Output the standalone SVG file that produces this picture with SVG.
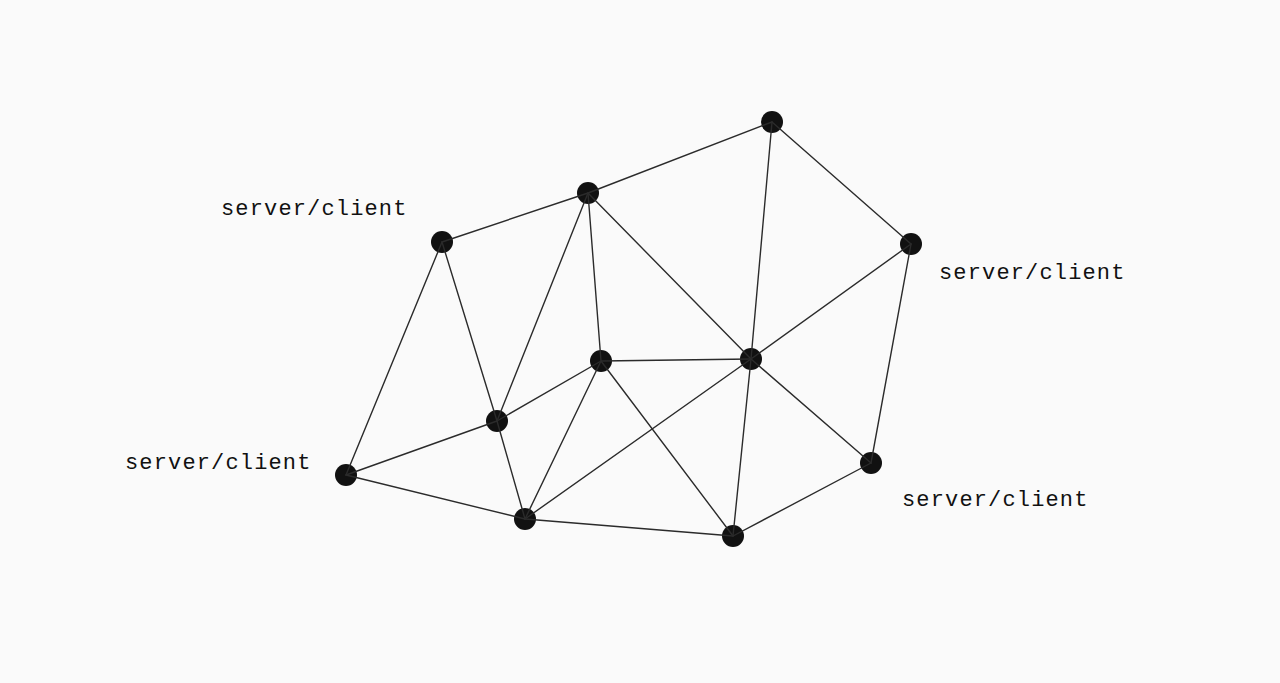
<svg xmlns="http://www.w3.org/2000/svg" width="1280" height="683" viewBox="0 0 1280 683">
<style>
.node{fill:#111;}
.edge{stroke:#2b2b2b;stroke-width:1.4;fill:none;stroke-linecap:round;}
.lbl{font-family:"Liberation Mono","DejaVu Sans Mono",monospace;font-size:22px;letter-spacing:1.15px;fill:#111;}
</style>
<rect width="1280" height="683" fill="#fafafa"/>
<g id="nodes">
<g id="nA"><circle class="node" cx="772" cy="122" r="11"/></g>
<g id="nB"><circle class="node" cx="588" cy="193" r="11"/></g>
<g id="nC"><circle class="node" cx="442" cy="242" r="11"/></g>
<g id="nD"><circle class="node" cx="911" cy="244" r="11"/></g>
<g id="nE"><circle class="node" cx="601" cy="361" r="11"/></g>
<g id="nF"><circle class="node" cx="751" cy="359" r="11"/></g>
<g id="nG"><circle class="node" cx="497" cy="421" r="11"/></g>
<g id="nH"><circle class="node" cx="346" cy="475" r="11"/></g>
<g id="nI"><circle class="node" cx="871" cy="463" r="11"/></g>
<g id="nJ"><circle class="node" cx="525" cy="519" r="11"/></g>
<g id="nK"><circle class="node" cx="733" cy="536" r="11"/></g>
</g>
<g id="connectors">
<line class="edge" x1="588" y1="193" x2="772" y2="122"/>
<line class="edge" x1="772" y1="122" x2="751" y2="359"/>
<line class="edge" x1="772" y1="122" x2="911" y2="244"/>
<line class="edge" x1="442" y1="242" x2="588" y2="193"/>
<line class="edge" x1="588" y1="193" x2="497" y2="421"/>
<line class="edge" x1="588" y1="193" x2="601" y2="361"/>
<line class="edge" x1="588" y1="193" x2="751" y2="359"/>
<line class="edge" x1="442" y1="242" x2="497" y2="421"/>
<line class="edge" x1="442" y1="242" x2="346" y2="475"/>
<line class="edge" x1="911" y1="244" x2="751" y2="359"/>
<line class="edge" x1="911" y1="244" x2="871" y2="463"/>
<line class="edge" x1="601" y1="361" x2="751" y2="359"/>
<line class="edge" x1="601" y1="361" x2="497" y2="421"/>
<line class="edge" x1="601" y1="361" x2="525" y2="519"/>
<line class="edge" x1="601" y1="361" x2="733" y2="536"/>
<line class="edge" x1="751" y1="359" x2="525" y2="519"/>
<line class="edge" x1="751" y1="359" x2="733" y2="536"/>
<line class="edge" x1="751" y1="359" x2="871" y2="463"/>
<line class="edge" x1="497" y1="421" x2="346" y2="475"/>
<line class="edge" x1="497" y1="421" x2="525" y2="519"/>
<line class="edge" x1="346" y1="475" x2="525" y2="519"/>
<line class="edge" x1="525" y1="519" x2="733" y2="536"/>
<line class="edge" x1="733" y1="536" x2="871" y2="463"/>
</g>
<g id="labels">
<text class="lbl" x="221" y="215">server/client</text>
<text class="lbl" x="939" y="279">server/client</text>
<text class="lbl" x="125" y="469">server/client</text>
<text class="lbl" x="902" y="506">server/client</text>
</g>
</svg>
